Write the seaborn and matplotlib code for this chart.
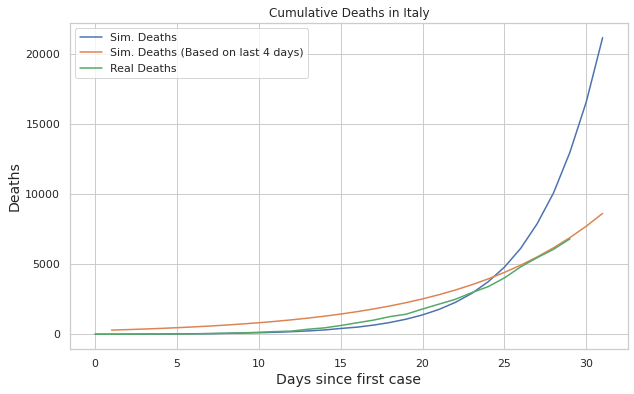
import matplotlib
matplotlib.use("Agg")
import matplotlib.pyplot as plt
import seaborn as sns

# Values
sim_days = list(range(0, 32))
sim_deaths = [10, 12, 16, 21, 26, 34, 43, 55, 71, 91, 116, 149, 191, 245, 314, 420,
              515, 660, 845, 1085, 1390, 1780, 2280, 2920, 3750, 4800, 6150, 7900,
              10100, 13000, 16600, 21200]

sim4_days = list(range(1, 32))
sim4_deaths = [304, 340, 380, 425, 475, 531, 594, 664, 743, 830, 928, 1038, 1160,
               1297, 1450, 1621, 1813, 2027, 2266, 2533, 2832, 3166, 3540, 3958,
               4425, 4947, 5530, 6183, 6912, 7728, 8640]

real_days = list(range(0, 30))
real_deaths = [7, 10, 12, 17, 21, 29, 34, 52, 79, 107, 148, 197, 233, 366, 463, 631,
               827, 1016, 1266, 1441, 1809, 2158, 2503, 2978, 3405, 4032, 4825, 5476,
               6077, 6820]

sns.set_theme(style="whitegrid")

fig = plt.figure(figsize=(634 / 72, 394 / 72), dpi=72)
ax = fig.add_axes([0.110, 0.114, 0.8805, 0.828])

sns.lineplot(x=sim_days, y=sim_deaths, ax=ax, label="Sim. Deaths")
sns.lineplot(x=sim4_days, y=sim4_deaths, ax=ax, label="Sim. Deaths (Based on last 4 days)")
sns.lineplot(x=real_days, y=real_deaths, ax=ax, label="Real Deaths")

ax.set_title("Cumulative Deaths in Italy", fontsize=12)
ax.set_xlabel("Days since first case", fontsize=14)
ax.set_ylabel("Deaths", fontsize=14)
ax.tick_params(labelsize=11)
ax.legend(loc="upper left", fontsize=11)

fig.savefig("out.png", dpi=72)
